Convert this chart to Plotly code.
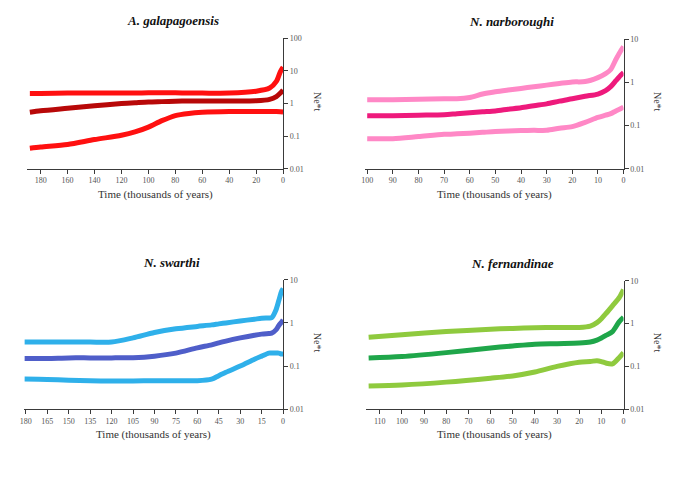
import plotly.graph_objects as go

# Bayesian skyline reconstructions: Ne*t through time (thousands of years)
# Each panel: lower 95% HPD, median, upper 95% HPD

# A. galapagoensis
t_gal = [188, 180, 160, 140, 120, 110, 100, 90, 80, 70, 60, 40, 20, 10, 5, 2, 0]
gal_upper = [2.05, 2.05, 2.1, 2.1, 2.1, 2.1, 2.15, 2.15, 2.15, 2.1, 2.1, 2.1, 2.4, 3.0, 4.8, 9.6, 13.0]
gal_median = [0.54, 0.6, 0.72, 0.86, 1.0, 1.06, 1.12, 1.15, 1.18, 1.2, 1.2, 1.2, 1.22, 1.35, 1.65, 2.1, 2.6]
gal_lower = [0.043, 0.047, 0.056, 0.079, 0.107, 0.135, 0.19, 0.30, 0.43, 0.50, 0.54, 0.57, 0.57, 0.57, 0.57, 0.56, 0.55]

# N. narboroughi
t_nar = [100, 90, 80, 70, 65, 60, 55, 50, 45, 40, 35, 30, 25, 20, 15, 10, 7, 5, 3, 1, 0]
nar_upper = [0.40, 0.40, 0.41, 0.42, 0.42, 0.45, 0.54, 0.61, 0.67, 0.73, 0.80, 0.87, 0.95, 1.03, 1.05, 1.3, 1.6, 2.0, 3.4, 5.5, 6.8]
nar_median = [0.17, 0.17, 0.175, 0.18, 0.19, 0.2, 0.21, 0.22, 0.24, 0.26, 0.29, 0.32, 0.37, 0.42, 0.48, 0.54, 0.65, 0.8, 1.1, 1.5, 1.7]
nar_lower = [0.05, 0.05, 0.056, 0.063, 0.065, 0.067, 0.07, 0.073, 0.075, 0.077, 0.078, 0.078, 0.087, 0.095, 0.119, 0.155, 0.175, 0.19, 0.22, 0.25, 0.27]

# N. swarthi
t_swa = [181, 165, 150, 135, 120, 105, 90, 75, 60, 50, 45, 40, 30, 20, 15, 10, 8, 5, 3, 1, 0]
swa_upper = [0.36, 0.36, 0.36, 0.36, 0.36, 0.45, 0.60, 0.73, 0.83, 0.9, 0.95, 1.0, 1.11, 1.22, 1.28, 1.3, 1.32, 2.0, 3.3, 5.5, 6.2]
swa_median = [0.15, 0.15, 0.155, 0.155, 0.155, 0.157, 0.17, 0.2, 0.265, 0.31, 0.345, 0.38, 0.45, 0.52, 0.55, 0.57, 0.58, 0.69, 0.87, 1.05, 1.17]
swa_lower = [0.05, 0.049, 0.047, 0.046, 0.045, 0.045, 0.046, 0.046, 0.046, 0.05, 0.06, 0.072, 0.10, 0.144, 0.17, 0.2, 0.2, 0.2, 0.2, 0.19, 0.19]

# N. fernandinae
t_fer = [115, 100, 80, 60, 50, 40, 30, 20, 15, 12, 10, 8, 5, 2, 0]
fer_upper = [0.48, 0.55, 0.65, 0.74, 0.77, 0.8, 0.81, 0.81, 0.87, 1.05, 1.3, 1.7, 2.6, 4.0, 6.2]
fer_median = [0.157, 0.17, 0.21, 0.27, 0.30, 0.33, 0.34, 0.35, 0.37, 0.41, 0.46, 0.53, 0.65, 1.1, 1.4]
fer_lower = [0.035, 0.037, 0.043, 0.053, 0.06, 0.074, 0.1, 0.125, 0.13, 0.136, 0.13, 0.12, 0.115, 0.16, 0.21]

titles = ["A. galapagoensis", "N. narboroughi", "N. swarthi", "N. fernandinae"]
x_ticks = [
    [180, 160, 140, 120, 100, 80, 60, 40, 20, 0],
    [100, 90, 80, 70, 60, 50, 40, 30, 20, 10, 0],
    [180, 165, 150, 135, 120, 105, 90, 75, 60, 45, 30, 15, 0],
    [110, 100, 90, 80, 70, 60, 50, 40, 30, 20, 10, 0],
]
y_ticks = [0.01, 0.1, 1, 10, 100]
y_tick_text = ["0.01", "0.1", "1", "10", "100"]

W, H = 677, 481

panels = [
    dict(t=t_gal, lo=gal_lower, med=gal_median, hi=gal_upper, c_band="#ff1010", c_med="#b80808",
         xr=[190, 0], yr=[-2, 2], px=(22.4, 281), py=(35, 168)),
    dict(t=t_nar, lo=nar_lower, med=nar_median, hi=nar_upper, c_band="#ff88c6", c_med="#ee1a7c",
         xr=[101, 0], yr=[-2, 1], px=(363.4, 625), py=(36, 168)),
    dict(t=t_swa, lo=swa_lower, med=swa_median, hi=swa_upper, c_band="#2fb0ea", c_med="#4f5ec9",
         xr=[181, 0], yr=[-2, 1], px=(19.6, 281), py=(281, 413)),
    dict(t=t_fer, lo=fer_lower, med=fer_median, hi=fer_upper, c_band="#8fca3e", c_med="#1fa64a",
         xr=[116, 0], yr=[-2, 1], px=(365.2, 625), py=(282, 413)),
]

serif = "Liberation Serif, Times New Roman, serif"
axis_col = "#3a3a3a"
fig = go.Figure()
annotations = []

for i, p in enumerate(panels, start=1):
    xa = "x" if i == 1 else f"x{i}"
    ya = "y" if i == 1 else f"y{i}"
    for key, col in (("hi", p["c_band"]), ("lo", p["c_band"]), ("med", p["c_med"])):
        fig.add_trace(go.Scatter(
            x=p["t"], y=p[key], mode="lines", xaxis=xa, yaxis=ya,
            line=dict(color=col, width=5, shape="spline", smoothing=0.8),
            showlegend=False, hoverinfo="skip",
        ))

    x0, x1 = p["px"][0] / W, p["px"][1] / W
    y0, y1 = 1 - p["py"][1] / H, 1 - p["py"][0] / H
    xkey = "xaxis" if i == 1 else f"xaxis{i}"
    ykey = "yaxis" if i == 1 else f"yaxis{i}"
    fig.update_layout(**{
        xkey: dict(domain=[x0, x1], range=p["xr"], anchor=ya, showgrid=False, zeroline=False,
                   showline=True, linecolor=axis_col, linewidth=1,
                   ticks="outside", ticklen=4, tickcolor=axis_col,
                   tickmode="array", tickvals=x_ticks[i - 1],
                   tickfont=dict(family=serif, size=8, color="#555555")),
        ykey: dict(domain=[y0, y1], type="log", range=p["yr"], anchor=xa, side="right",
                   showgrid=False, zeroline=False, showline=True, linecolor=axis_col, linewidth=1,
                   ticks="outside", ticklen=4, tickcolor=axis_col,
                   tickmode="array", tickvals=y_ticks, ticktext=y_tick_text,
                   tickfont=dict(family=serif, size=8, color="#555555")),
    })

    cx = (p["px"][0] + p["px"][1]) / 2
    # panel title
    annotations.append(dict(
        text=f"<b><i>{titles[i - 1]}</i></b>", x=(cx + 18) / W, y=1 - (p["py"][0] - 18) / H,
        xref="paper", yref="paper", showarrow=False, xanchor="center", yanchor="middle",
        font=dict(family=serif, size=13, color="#111111"),
    ))
    # x axis title
    annotations.append(dict(
        text="Time (thousands of years)", x=cx / W, y=1 - (p["py"][1] + 26) / H,
        xref="paper", yref="paper", showarrow=False, xanchor="center", yanchor="middle",
        font=dict(family=serif, size=11, color="#333333"),
    ))
    # y axis title, reading top to bottom
    annotations.append(dict(
        text="Ne*t", x=(p["px"][1] + 35) / W, y=1 - (p["py"][0] + 0.5 * (p["py"][1] - p["py"][0]) - 2) / H,
        xref="paper", yref="paper", showarrow=False, xanchor="center", yanchor="middle",
        textangle=90, font=dict(family=serif, size=10, color="#333333"),
    ))

fig.update_layout(
    width=W, height=H, margin=dict(l=0, r=0, t=0, b=0),
    paper_bgcolor="white", plot_bgcolor="white",
    annotations=annotations, showlegend=False,
)

fig.write_html("out.html")
